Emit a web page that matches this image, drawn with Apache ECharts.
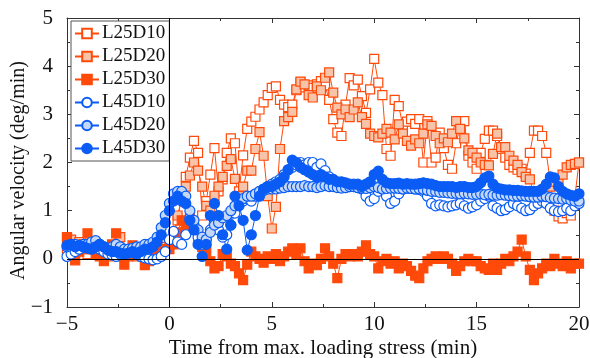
<!DOCTYPE html>
<html>
<head>
<meta charset="utf-8">
<script src="https://cdn.jsdelivr.net/npm/echarts@6/dist/echarts.min.js"></script>
<style>
  html, body { margin: 0; padding: 0; background: #fff; }
  #chart { width: 590px; height: 358px; }
</style>
</head>
<body>
<div id="chart"></div>
<script>
// sampling grid: one value every 0.2 min from -5 min
const T0 = -5;
const DT = 0.2;

const names = ["L25D10", "L25D20", "L25D30", "L45D10", "L45D20", "L45D30"];

const l25d10 = [
  0.2, 0.25, 0.15, 0.3, 0.2, 0.1, 0.2, 0.25, 0.15, 0.1,
  0.05, 0.15, 0.2, 0.1, 0.05, 0.1, 0.15, 0.05, 0.1, 0.2,
  0.15, 0.1, 0.2, 0.25, 0.3,
  0.3, 0.45, 0.8, 1.3, 1.7,
  2.1, 2.45, 2.2, 0.9, 1.2,
  1.75, 2.3, 1.4, 1.65, 2.2,
  2.5, 2.4, 1.4, 2.15, 2.7,
  2.85, 2.95, 3.1, 3.25, 3.4,
  3.55, 3.58, 3.3, 3.2, 3.15,
  3.2, 3.5, 3.66, 3.56, 3.6,
  3.55, 3.62, 3.69, 3.6, 3.3,
  2.9, 2.62, 2.55, 3.2, 3.75,
  3.6, 3.72, 3.38, 3.03, 3.52,
  4.15, 3.66, 3.4, 2.28, 2.14,
  3.3, 3.17, 2.76, 2.85, 2.9,
  2.8, 2.9, 2.0, 2.86, 2.0,
  2.1, 2.62, 2.3, 1.95, 1.87,
  2.4, 2.76, 2.86, 2.14, 2.0,
  1.87, 2.2, 2.49, 2.66, 2.66,
  2.55, 2.28, 2.1, 1.95, 1.9,
  1.85, 1.87, 1.77, 2.2, 2.66,
  2.66, 2.55, 2.2, 1.6, 1.0,
  0.88, 0.84, 0.95, 0.9, 1.3,
  2.0
];

const l25d20 = [
  0.45, 0.4, 0.3, 0.35, 0.25, 0.2, 0.3, 0.25, 0.2, 0.15,
  0.1, 0.2, 0.25, 0.45, 0.15, 0.05, 0.1, 0.15, 0.1, 0.15,
  0.2, 0.15, 0.1, 0.2, 0.25,
  0.3, 0.5, 0.9, 1.25, 1.5,
  1.73, 2.0, 1.83, 1.5, 1.1,
  1.0, 1.31, 1.5, 1.7, 1.93,
  2.07, 1.66, 1.3, 1.5, 1.83,
  1.83, 2.28, 2.63, 2.14, 1.3,
  0.63, 1.08, 2.28, 2.86, 2.94,
  3.05, 3.52, 3.68, 3.62, 3.4,
  3.35, 3.58, 3.5, 3.76, 3.87,
  3.45, 3.14, 3.0, 3.1, 2.94,
  3.1, 3.25, 2.94, 2.8, 2.6,
  2.55, 2.52, 2.6, 2.7, 2.62,
  2.48, 2.79, 2.6, 2.45, 2.35,
  2.48, 2.4, 2.6, 2.79, 2.76,
  2.55, 2.4, 2.5, 2.42, 2.6,
  2.86, 2.7, 2.5, 2.25, 2.2,
  2.1, 2.0, 1.95, 1.94, 2.18,
  2.6, 2.32, 2.32, 2.14, 2.04,
  1.95, 1.8, 1.7, 1.65, 1.35,
  1.3, 1.2, 1.25, 1.5, 1.6,
  1.66, 1.75, 1.9, 1.95, 1.97,
  2.0
];

const l25d30 = [
  0.43, 0.2, -0.03, 0.15, 0.3, 0.53, 0.25, 0.1, 0.05, -0.05,
  0.15, 0.3, 0.53, 0.1, -0.12, 0.1, 0.28, 0.15, 0.1, -0.13,
  -0.05, 0.1, 0.08, 0.15, 0.2,
  0.2, 0.3, 0.55, 0.8, 0.7,
  0.84, 0.6, 0.4, 0.25, 0.15,
  -0.05, -0.2, -0.15, 0.1, 0.05,
  -0.1, -0.15, -0.3, -0.44, -0.12,
  0.15, 0.05, 0.0, -0.08, 0.05,
  0.0, 0.1, -0.05, 0.05, 0.15,
  0.22, 0.1, 0.22, -0.05, -0.2,
  -0.1, -0.13, 0.0, 0.22, 0.05,
  -0.1, -0.4, 0.0, 0.1, 0.05,
  0.1, 0.05, 0.15, 0.28, 0.1,
  0.05, -0.2, -0.05, 0.0, -0.1,
  -0.05, -0.2, -0.1, -0.15, -0.25,
  -0.35, -0.4, -0.2, -0.05, 0.0,
  0.05, 0.0, 0.05, 0.0, -0.1,
  -0.25, -0.15, -0.05, 0.0, -0.05,
  -0.05, -0.15, -0.2, -0.23, -0.1,
  -0.23, -0.1, 0.0, -0.05, 0.05,
  0.15, 0.4, 0.05, -0.23, -0.44,
  -0.3, -0.2, -0.1, -0.15, 0.0,
  -0.1, -0.15, -0.05, -0.2, -0.1,
  -0.1
];

const l45d10 = [
  0.05, 0.1, 0.15, 0.2, 0.25, 0.3, 0.3, 0.25, 0.2, 0.15,
  0.1, 0.08, 0.05, 0.1, 0.12, 0.15, 0.15, 0.1, 0.05, 0.02,
  0.0, -0.02, 0.0, 0.05, 0.15,
  0.4, 0.57, 0.35, 0.3, 0.5,
  0.85, 0.7, 0.45, 0.3, 0.4,
  0.6, 0.85, 0.6, 0.45, 0.5,
  0.7, 0.95, 1.15, 1.2, 1.25,
  1.2, 1.3, 1.4, 1.45, 1.5,
  1.55, 1.6, 1.65, 1.75, 1.85,
  1.9, 1.95, 2.0, 1.95, 2.0,
  2.0, 1.9, 1.97, 1.83, 1.7,
  1.6, 1.55, 1.5, 1.48, 1.5,
  1.5, 1.48, 1.45, 1.3, 1.2,
  1.25, 1.4, 1.45, 1.3, 1.15,
  1.2, 1.35, 1.45, 1.47, 1.46,
  1.45, 1.44, 1.4, 1.3, 1.15,
  1.1, 1.12, 1.1, 1.08, 1.1,
  1.12, 1.15, 1.1, 1.05, 1.08,
  1.12, 1.2, 1.25, 1.3, 1.1,
  1.05, 1.0, 1.02, 1.08, 1.15,
  1.1, 1.05, 1.0, 1.02, 1.1,
  1.15, 1.2, 1.15, 1.05, 1.0,
  0.98, 1.0, 1.05, 1.0, 1.1,
  1.15
];

const l45d20 = [
  0.25, 0.3, 0.3, 0.28, 0.3, 0.3, 0.35, 0.38, 0.3, 0.25,
  0.2, 0.25, 0.3, 0.25, 0.2, 0.2, 0.22, 0.25, 0.25, 0.3,
  0.3, 0.35, 0.45, 0.65, 0.9,
  1.15, 1.35, 1.4, 1.4, 1.3,
  1.0, 0.8, 0.6, 0.45, 0.4,
  0.55, 0.7, 0.75, 0.85, 0.9,
  1.0, 1.1, 1.2, 1.25, 1.3,
  1.3, 1.35, 1.4, 1.42, 1.45,
  1.45, 1.45, 1.47, 1.48, 1.5,
  1.5, 1.5, 1.5, 1.52, 1.5,
  1.5, 1.48, 1.5, 1.52, 1.5,
  1.5, 1.48, 1.47, 1.48, 1.5,
  1.5, 1.48, 1.47, 1.46, 1.48,
  1.5, 1.48, 1.45, 1.46, 1.47,
  1.47, 1.46, 1.45, 1.47, 1.46,
  1.45, 1.45, 1.44, 1.42, 1.4,
  1.4, 1.38, 1.38, 1.37, 1.36,
  1.36, 1.35, 1.36, 1.35, 1.34,
  1.34, 1.35, 1.33, 1.34, 1.32,
  1.32, 1.33, 1.32, 1.31, 1.3,
  1.3, 1.31, 1.3, 1.29, 1.28,
  1.28, 1.3, 1.29, 1.27, 1.26,
  1.25, 1.24, 1.25, 1.22, 1.2,
  1.2
];

const l45d30 = [
  0.28, 0.3, 0.25, 0.28, 0.25, 0.22, 0.2, 0.25, 0.3, 0.25,
  0.18, 0.15, 0.15, 0.12, 0.1, 0.12, 0.15, 0.1, 0.15, 0.2,
  0.2, 0.25, 0.35, 0.5, 0.75,
  1.0, 1.2, 1.3, 1.2, 1.15,
  0.8, 0.6, 0.3, 0.05, 0.3,
  0.9, 1.15, 0.9, 0.5, 0.2,
  0.7, 1.3, 1.1, 0.8, 0.18,
  0.5, 0.9, 1.3, 1.45, 1.5,
  1.5, 1.55, 1.6, 1.7, 1.85,
  2.05, 2.0, 1.9, 1.85, 1.8,
  1.75, 1.7, 1.75, 1.7, 1.65,
  1.65, 1.6, 1.6, 1.58, 1.55,
  1.55, 1.55, 1.5, 1.55, 1.6,
  1.75, 1.82, 1.65, 1.58, 1.56,
  1.56, 1.57, 1.55, 1.56, 1.55,
  1.55, 1.56, 1.58, 1.56, 1.55,
  1.52, 1.5, 1.5, 1.5, 1.5,
  1.48, 1.5, 1.5, 1.48, 1.48,
  1.5, 1.58, 1.68, 1.72, 1.55,
  1.47, 1.45, 1.43, 1.43, 1.42,
  1.42, 1.41, 1.4, 1.4, 1.4,
  1.4, 1.45, 1.55, 1.7, 1.68,
  1.5, 1.4, 1.35, 1.32, 1.3,
  1.35
];

const values = [l25d10, l25d20, l25d30, l45d10, l45d20, l45d30];

const ORANGE = "#ff4a0a";
const BLUE = "#0a5cf5";
const styles = [
  { symbol: "rect", size: 9, color: ORANGE, fill: "#ffffff" },
  { symbol: "rect", size: 9, color: ORANGE, fill: "#f7c4aa" },
  { symbol: "rect", size: 9, color: ORANGE, fill: ORANGE },
  { symbol: "circle", size: 10, color: BLUE, fill: "#ffffff" },
  { symbol: "circle", size: 10, color: BLUE, fill: "#c4d8f5" },
  { symbol: "circle", size: 10, color: BLUE, fill: BLUE }
];

const FONT = "Liberation Serif";

function toPairs(arr) {
  return arr.map((v, i) => [Math.round((T0 + i * DT) * 10) / 10, v]);
}

function minus(v) {
  return String(v).replace("-", "\u2212");
}

const series = names.map((name, k) => ({
  name: name,
  type: "line",
  data: toPairs(values[k]),
  symbol: styles[k].symbol,
  symbolSize: styles[k].size,
  showAllSymbol: true,
  lineStyle: { color: styles[k].color, width: 1 },
  itemStyle: { color: styles[k].fill, borderColor: styles[k].color, borderWidth: 1.2 },
  emphasis: { disabled: true },
  animation: false
}));

// zero reference lines
series[0].markLine = {
  silent: true,
  symbol: "none",
  label: { show: false },
  lineStyle: { color: "#000", width: 1, type: "solid" },
  data: [{ xAxis: 0 }, { yAxis: 0 }],
  animation: false
};

const chart = echarts.init(document.getElementById("chart"));
chart.setOption({
  animation: false,
  textStyle: { fontFamily: FONT },
  grid: { left: 67, right: 11, top: 18, bottom: 51, outerBoundsMode: "none" },
  legend: {
    orient: "vertical",
    left: 71,
    top: 21,
    padding: [3, 4, 3, 3],
    itemGap: 4,
    itemWidth: 24,
    itemHeight: 12,
    borderColor: "#555",
    borderWidth: 1,
    backgroundColor: "#fff",
    textStyle: { fontFamily: FONT, fontSize: 19, color: "#111", padding: [0, 0, 0, -2] },
    data: names
  },
  xAxis: [
    {
      type: "value", min: -5, max: 20, interval: 5,
      name: "Time from max. loading stress (min)",
      nameLocation: "middle", nameGap: 31, nameMoveOverlap: false,
      nameTextStyle: { fontFamily: FONT, fontSize: 21, color: "#111" },
      axisLine: { onZero: false, lineStyle: { color: "#333", width: 1 } },
      axisTick: { inside: true, length: 5, lineStyle: { color: "#333" } },
      minorTick: { show: true, splitNumber: 2, length: 3, lineStyle: { color: "#333" } },
      axisLabel: { fontFamily: FONT, fontSize: 21, color: "#111", margin: 7, formatter: minus },
      splitLine: { show: false }
    },
    {
      type: "value", min: -5, max: 20, interval: 5, position: "top",
      axisLine: { onZero: false, lineStyle: { color: "#333", width: 1 } },
      axisTick: { inside: true, length: 5, lineStyle: { color: "#333" } },
      minorTick: { show: true, splitNumber: 2, length: 3, lineStyle: { color: "#333" } },
      axisLabel: { show: false },
      splitLine: { show: false }
    }
  ],
  yAxis: [
    {
      type: "value", min: -1, max: 5, interval: 1,
      name: "Angular velocity (deg/min)",
      nameLocation: "middle", nameGap: 38, nameMoveOverlap: false,
      nameTextStyle: { fontFamily: FONT, fontSize: 20, color: "#111", padding: [0, 16, 0, 0] },
      axisLine: { onZero: false, lineStyle: { color: "#333", width: 1 } },
      axisTick: { inside: true, length: 5, lineStyle: { color: "#333" } },
      minorTick: { show: true, splitNumber: 2, length: 3, lineStyle: { color: "#333" } },
      axisLabel: { fontFamily: FONT, fontSize: 21, color: "#111", margin: 14, formatter: minus },
      splitLine: { show: false }
    },
    {
      type: "value", min: -1, max: 5, interval: 1, position: "right",
      axisLine: { onZero: false, lineStyle: { color: "#333", width: 1 } },
      axisTick: { inside: true, length: 5, lineStyle: { color: "#333" } },
      minorTick: { show: true, splitNumber: 2, length: 3, lineStyle: { color: "#333" } },
      axisLabel: { show: false },
      splitLine: { show: false }
    }
  ],
  series: series
});
</script>
</body>
</html>
